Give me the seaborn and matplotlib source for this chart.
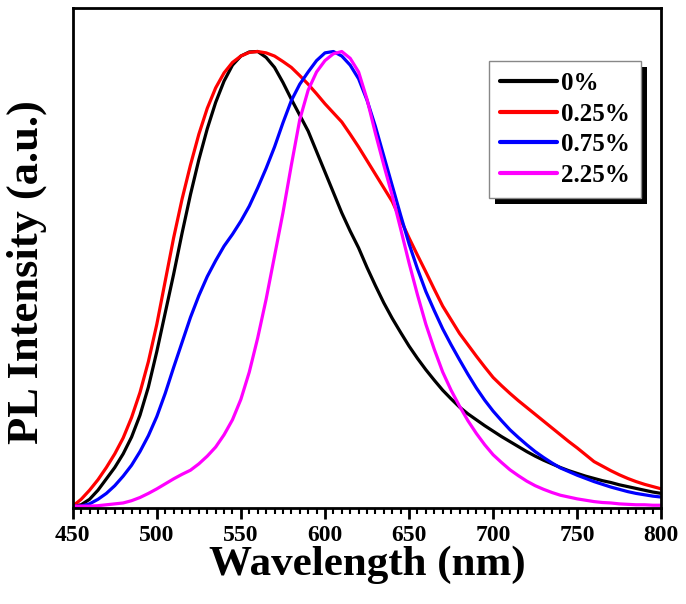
import numpy as np
import pandas as pd
import matplotlib
matplotlib.use('Agg')
import matplotlib.pyplot as plt
from matplotlib.patches import Rectangle
from matplotlib.ticker import MultipleLocator
import seaborn as sns

# wavelength grid (nm) and normalised PL intensity
wavelength = list(range(450, 801, 5))

pl_0 = [0.0, 0.003, 0.015, 0.035, 0.06, 0.085, 0.115, 0.152, 0.2, 0.262,
        0.34, 0.425, 0.51, 0.6, 0.685, 0.762, 0.83, 0.888, 0.935, 0.97,
        0.99, 0.999, 1.0, 0.987, 0.965, 0.932, 0.895, 0.86, 0.825, 0.78,
        0.735, 0.69, 0.645, 0.605, 0.568, 0.525, 0.485, 0.447, 0.413, 0.382,
        0.352, 0.325, 0.3, 0.277, 0.255, 0.236, 0.218, 0.203, 0.19, 0.177,
        0.165, 0.153, 0.142, 0.131, 0.12, 0.11, 0.101, 0.093, 0.085, 0.078,
        0.072, 0.066, 0.061, 0.056, 0.052, 0.047, 0.043, 0.039, 0.035, 0.031,
        0.028]
pl_025 = [0.0, 0.015, 0.035, 0.058, 0.085, 0.115, 0.15, 0.195, 0.25, 0.318,
          0.4, 0.495, 0.59, 0.675, 0.75, 0.818, 0.875, 0.92, 0.953, 0.976,
          0.99, 0.998, 1.0, 0.997, 0.99, 0.978, 0.965, 0.947, 0.928, 0.907,
          0.885, 0.865, 0.845, 0.818, 0.79, 0.76, 0.73, 0.70, 0.67, 0.63,
          0.59, 0.552, 0.515, 0.477, 0.44, 0.41, 0.38, 0.355, 0.33, 0.306,
          0.283, 0.265, 0.248, 0.232, 0.217, 0.202, 0.187, 0.172, 0.157, 0.142,
          0.128, 0.113, 0.098, 0.088, 0.078, 0.069, 0.061, 0.054, 0.048, 0.043,
          0.038]
pl_075 = [0.0, 0.0, 0.005, 0.015, 0.028, 0.045, 0.066, 0.09, 0.12, 0.155,
          0.197, 0.248, 0.305, 0.36, 0.415, 0.463, 0.505, 0.54, 0.572, 0.598,
          0.627, 0.66, 0.70, 0.743, 0.79, 0.843, 0.892, 0.928, 0.955, 0.98,
          0.997, 1.0, 0.99, 0.97, 0.94, 0.893, 0.835, 0.77, 0.705, 0.64,
          0.577, 0.522, 0.472, 0.43, 0.39, 0.355, 0.322, 0.29, 0.26, 0.233,
          0.209, 0.188, 0.168, 0.151, 0.135, 0.12, 0.107, 0.095, 0.084, 0.076,
          0.068, 0.061, 0.054, 0.048, 0.042, 0.037, 0.032, 0.028, 0.025, 0.022,
          0.02]
pl_225 = [0.0, 0.0, 0.0, 0.001, 0.003, 0.005, 0.007, 0.012, 0.019, 0.028,
          0.038, 0.049, 0.06, 0.07, 0.079, 0.093, 0.11, 0.13, 0.157, 0.19,
          0.235, 0.295, 0.37, 0.455, 0.55, 0.645, 0.75, 0.85, 0.915, 0.955,
          0.98, 0.995, 1.0, 0.985, 0.955, 0.895, 0.82, 0.75, 0.683, 0.61,
          0.535, 0.465, 0.4, 0.345, 0.295, 0.255, 0.22, 0.188, 0.16, 0.135,
          0.113, 0.096, 0.08, 0.067, 0.055, 0.045, 0.037, 0.03, 0.024, 0.02,
          0.016, 0.013, 0.01, 0.008, 0.007, 0.005, 0.004, 0.003, 0.003, 0.002,
          0.002]

labels = ['0%', '0.25%', '0.75%', '2.25%']
colors = ['#000000', '#ff0000', '#0000ff', '#ff00ff']

df = pd.DataFrame({'wavelength': wavelength * 4,
                   'intensity': pl_0 + pl_025 + pl_075 + pl_225,
                   'sample': [l for l in labels for _ in wavelength]})

sns.set_style('ticks')
plt.rcParams['font.family'] = ['Liberation Serif', 'DejaVu Serif']
plt.rcParams['font.weight'] = 'bold'
plt.rcParams['text.color'] = 'black'
plt.rcParams['axes.labelcolor'] = 'black'
plt.rcParams['xtick.color'] = 'black'
plt.rcParams['axes.edgecolor'] = 'black'

fig = plt.figure(figsize=(6.86, 6.04), dpi=100)
ax = fig.add_axes([0.106, 0.159, 0.858, 0.828])

sns.lineplot(data=df, x='wavelength', y='intensity', hue='sample',
             palette=colors, hue_order=labels, linewidth=2.3, ax=ax)

ax.set_xlim(450, 800)
ax.set_ylim(-0.004, 1.096)
ax.xaxis.set_major_locator(MultipleLocator(50))
ax.xaxis.set_minor_locator(MultipleLocator(5))
ax.tick_params(axis='x', which='major', direction='out', length=8, width=2,
               labelsize=17, pad=4)
ax.tick_params(axis='x', which='minor', direction='out', length=4, width=1.5)
ax.set_yticks([])
for lbl in ax.get_xticklabels():
    lbl.set_fontweight('bold')
for s in ax.spines.values():
    s.set_linewidth(2)
    s.set_visible(True)

ax.set_xlabel('Wavelength (nm)', fontsize=31, fontweight='bold', labelpad=0)
ax.set_ylabel('PL Intensity (a.u.)', fontsize=32, fontweight='bold')
ax.yaxis.set_label_coords(-0.044, 0.472)

leg = ax.legend(loc='upper right', bbox_to_anchor=(0.966, 0.894),
                borderaxespad=0, fancybox=False, framealpha=1,
                edgecolor='#888888', prop={'size': 18, 'weight': 'bold'},
                handlelength=2.3, handletextpad=0.15, labelspacing=0.3,
                borderpad=0.45)
leg.get_frame().set_linewidth(1)
leg.set_zorder(10)
for line in leg.get_lines():
    line.set_linewidth(3)

# black drop shadow behind the legend box
fig.canvas.draw()
bb = leg.get_window_extent()
shadow = Rectangle((bb.x0 + 6, bb.y0 - 6), bb.width, bb.height,
                   transform=None, facecolor='black', edgecolor='none',
                   clip_on=False, zorder=9)
ax.add_artist(shadow)

fig.savefig('out.png', dpi=100)
